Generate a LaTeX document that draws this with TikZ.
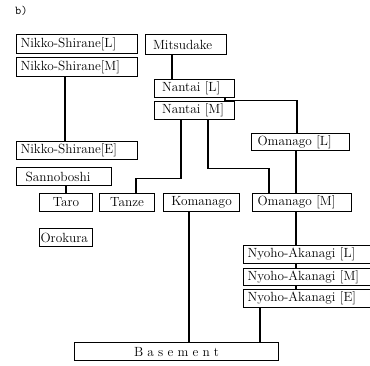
\documentclass[tikz,border=0pt]{standalone}
\begin{document}
\begin{tikzpicture}[x=1pt,y=-1pt,
  bx/.style={draw, line width=1.1pt, anchor=north west, inner ysep=0pt,
    font=\fontsize{13.3pt}{15pt}\selectfont},
  lft/.style 2 args={bx, text width=#1, inner xsep=#2, align=left},
  ctr/.style={bx, inner xsep=0pt, align=center},
  conn/.style={line width=1.1pt}]
\useasboundingbox[fill=white] (0,0) rectangle (370,365);
\node[anchor=west, font=\ttfamily\fontsize{12pt}{14pt}\selectfont, inner sep=0pt] (lab) at (15,11) {b)};
% boxes
\node[lft={113pt}{4pt}, minimum height=19pt] (nsL) at (16,34) {Nikko-Shirane[L]};
\node[lft={113pt}{4pt}, minimum height=19pt] (nsM) at (16,57) {Nikko-Shirane[M]};
\node[lft={66pt}{7.5pt}, minimum height=20pt] (mit) at (145,34) {Mitsudake};
\node[lft={65pt}{7.5pt}, minimum height=18pt] (nL) at (154,79) {Nantai [L]};
\node[lft={65pt}{7.5pt}, minimum height=18pt] (nM) at (154,101) {Nantai [M]};
\node[lft={86pt}{6pt}, minimum height=17pt] (omL) at (251,133) {Omanago [L]};
\node[lft={113pt}{4pt}, minimum height=18pt] (nsE) at (16,141) {Nikko-Shirane[E]};
\node[lft={77pt}{9pt}, minimum height=18pt] (san) at (16,167) {Sannoboshi};
\node[ctr, minimum width=53pt, minimum height=18pt] (taro) at (39,193) {Taro};
\node[ctr, minimum width=55pt, minimum height=18pt] (tanze) at (99,193) {Tanze};
\node[ctr, minimum width=76pt, minimum height=18pt] (koma) at (163,193) {Komanago};
\node[lft={89pt}{5pt}, minimum height=18pt] (omM) at (252,193) {Omanago [M]};
\node[lft={51pt}{1pt}, minimum height=18pt] (oro) at (39,228) {Orokura};
\node[lft={142pt}{4pt}, minimum height=18pt] (nyL) at (243,245) {Nyoho-Akanagi [L]};
\node[lft={142pt}{4pt}, minimum height=17pt] (nyM) at (243,268) {Nyoho-Akanagi [M]};
\node[lft={142pt}{4pt}, minimum height=18pt] (nyE) at (243,289) {Nyoho-Akanagi [E]};
\node[ctr, minimum width=204pt, minimum height=18pt] (base) at (74,342)
  {B\hspace{4.2pt}a\hspace{4.2pt}s\hspace{4.2pt}e\hspace{4.2pt}m\hspace{4.2pt}e\hspace{4.2pt}n\hspace{4.2pt}t};
% connectors
\draw[conn] ([xshift=49pt]nsM.south west) -- ([xshift=49pt]nsE.north west);
\draw[conn] ([xshift=27pt]mit.south west) -- ([xshift=18pt]nL.north west);
\draw[conn] ([xshift=71pt]nL.south west) -- ++(0,2) -| ([xshift=46pt]omL.north west);
\draw[conn] ([xshift=27pt]nM.south west) -- ++(0,58) -| ([xshift=37pt]tanze.north west);
\draw[conn] ([xshift=54pt]nM.south west) -- ++(0,48) -| ([xshift=17pt]omM.north west);
\draw[conn] ([xshift=45pt]omL.south west) -- ([xshift=44pt]omM.north west);
\draw[conn] ([xshift=44pt]omM.south west) -- ([xshift=53pt]nyL.north west);
\draw[conn] ([xshift=53pt]nyL.south west) -- ([xshift=53pt]nyM.north west);
\draw[conn] ([xshift=53pt]nyM.south west) -- ([xshift=53pt]nyE.north west);
\draw[conn] ([xshift=50pt]san.south west) -- ([xshift=27pt]taro.north west);
\draw[conn] ([xshift=26pt]koma.south west) -- ([xshift=115pt]base.north west);
\draw[conn] ([xshift=17pt]nyE.south west) -- ([xshift=186pt]base.north west);
\end{tikzpicture}
\end{document}
